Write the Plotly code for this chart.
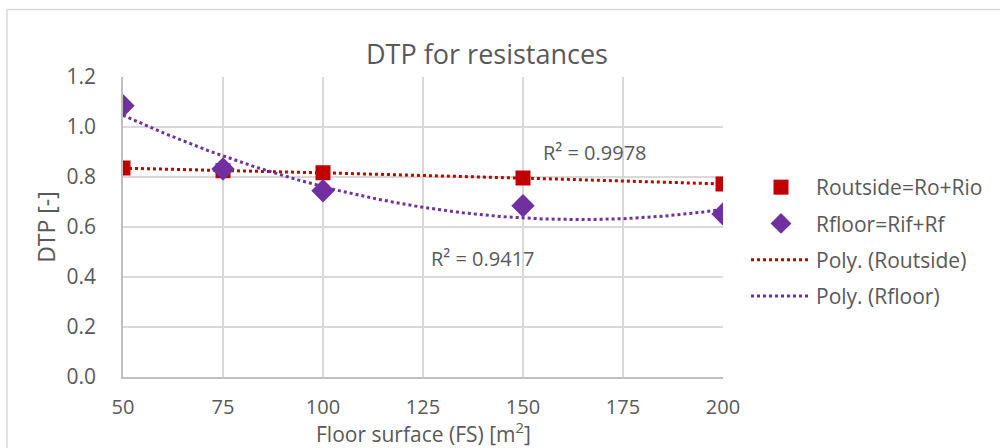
import numpy as np
import plotly.graph_objects as go

fs = [50, 75, 100, 150, 200]
r_outside = [0.836, 0.825, 0.817, 0.796, 0.772]
r_floor = [1.085, 0.832, 0.745, 0.685, 0.652]
r2_outside = "R² = 0.9978"
r2_floor = "R² = 0.9417"

RED = "#C00000"
PURPLE = "#7030A0"
TXT = "#595959"
FONT = "Open Sans"

xt = np.linspace(min(fs), max(fs), 200)
fit_o = np.polyval(np.polyfit(fs, r_outside, 2), xt)
fit_f = np.polyval(np.polyfit(fs, r_floor, 2), xt)

fig = go.Figure()
fig.add_trace(go.Scatter(x=xt, y=fit_o, mode="lines", name="Poly. (Routside)",
                         line=dict(color=RED, width=3, dash="dot"), showlegend=False, hoverinfo="skip"))
fig.add_trace(go.Scatter(x=xt, y=fit_f, mode="lines", name="Poly. (Rfloor)",
                         line=dict(color=PURPLE, width=3, dash="dot"), showlegend=False, hoverinfo="skip"))
fig.add_trace(go.Scatter(x=fs, y=r_outside, mode="markers", name="Routside=Ro+Rio", legendgroup="g1",
                         marker=dict(symbol="square", size=15, color=RED)))
fig.add_trace(go.Scatter(x=fs, y=r_floor, mode="markers", name="Rfloor=Rif+Rf", legendgroup="g2",
                         marker=dict(symbol="diamond", size=18, color=PURPLE)))
fig.add_trace(go.Scatter(x=[None], y=[None], mode="lines", name="Poly. (Routside)", legendgroup="g3",
                         line=dict(color=RED, width=3, dash="dot")))
fig.add_trace(go.Scatter(x=[None], y=[None], mode="lines", name="Poly. (Rfloor)", legendgroup="g4",
                         line=dict(color=PURPLE, width=3, dash="dot")))

fig.add_annotation(x=154.5, y=0.9, text=r2_outside, showarrow=False, xanchor="left",
                   font=dict(family=FONT, size=20, color=TXT))
fig.add_annotation(x=126.5, y=0.476, text=r2_floor, showarrow=False, xanchor="left",
                   font=dict(family=FONT, size=20, color=TXT))

# x-axis title placed as paper annotation
fig.add_annotation(xref="paper", yref="paper", x=(423-123)/600, y=(377-432)/300,
                   text="Floor surface (FS) [m<sup>2</sup>]", showarrow=False,
                   xanchor="center", yanchor="middle", font=dict(family=FONT, size=21, color=TXT))

fig.add_shape(type="line", xref="paper", yref="paper", x0=(7-123)/600, x1=(1000-123)/600,
              y0=(377-9.5)/300, y1=(377-9.5)/300, line=dict(color="#d9d9d9", width=1.5))
fig.add_shape(type="line", xref="paper", yref="paper", x0=(7-123)/600, x1=(7-123)/600,
              y0=(377-9.5)/300, y1=(377-448)/300, line=dict(color="#d9d9d9", width=1.5))

fig.update_layout(
    width=1000, height=448,
    margin=dict(l=123, r=277, t=77, b=71, autoexpand=False),
    paper_bgcolor="white", plot_bgcolor="white",
    font=dict(family=FONT, color=TXT, size=18),
    title=dict(text="DTP for resistances", x=(487-123)/600, xref="paper", xanchor="center",
               y=1 - 55/448, yref="container", yanchor="middle", font=dict(family=FONT, size=27, color=TXT)),
    xaxis=dict(range=[50, 200], tickvals=[50, 75, 100, 125, 150, 175, 200], automargin=False,
               showgrid=True, gridcolor="#d9d9d9", gridwidth=1.5,
               showline=True, linecolor="#bfbfbf", linewidth=1.5,
               zeroline=False, ticks="", tickfont=dict(family=FONT, size=20, color=TXT), ticklabelstandoff=11),
    yaxis=dict(range=[0, 1.2], dtick=0.2, tickformat=".1f", automargin=False,
               showgrid=True, gridcolor="#d9d9d9", gridwidth=1.5,
               showline=True, linecolor="#bfbfbf", linewidth=1.5,
               zeroline=False, ticks="", tickfont=dict(family=FONT, size=21, color=TXT), ticklabelstandoff=21,
               title=dict(text="DTP [-]", font=dict(family=FONT, size=23, color=TXT), standoff=4)),
    legend=dict(xref="container", yref="container", x=0.746, y=1 - 242/448, xanchor="left", yanchor="middle",
                bgcolor="rgba(0,0,0,0)",
                font=dict(family=FONT, size=21, color=TXT), tracegroupgap=6, itemwidth=60),
)

fig.write_html("out.html")
